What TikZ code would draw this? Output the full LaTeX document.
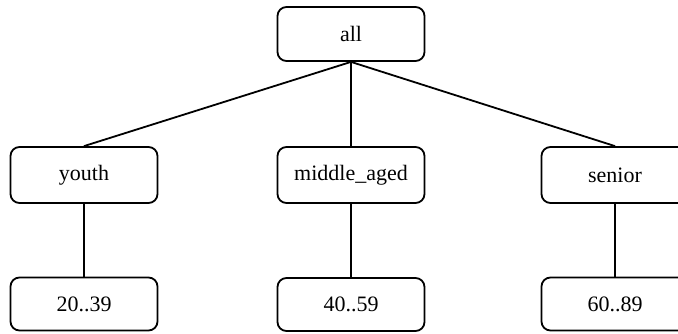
\documentclass[tikz,border=0pt]{standalone}
\usepackage{fontspec}
\setmainfont{Liberation Serif}
\begin{document}
\begin{tikzpicture}[x=1pt,y=-1pt]
\tikzset{
  box/.style={draw, line width=1.8pt, rounded corners=9pt, minimum width=147pt, inner sep=0pt, font=\fontsize{22}{26}\selectfont, fill=white},
  conn/.style={line width=1.8pt}
}
\useasboundingbox (0,0) rectangle (678,333);
\node[box, minimum height=54pt] (all) at (351,34) {all};
\node[box, minimum height=56pt] (youth) at (84,175) {youth};
\node[box, minimum height=56pt] (mid) at (351,175) {middle\_aged};
\node[box, minimum height=56pt] (sen) at (615,175) {senior};
\node[box, minimum height=53pt] (a) at (84,304) {20..39};
\node[box, minimum height=53pt] (b) at (351,304.5) {40..59};
\node[box, minimum height=53pt] (c) at (615,304) {60..89};
\draw[conn] (all.south) -- (youth.north);
\draw[conn] (all.south) -- (mid.north);
\draw[conn] (all.south) -- (sen.north);
\draw[conn] (youth.south) -- (a.north);
\draw[conn] (mid.south) -- (b.north);
\draw[conn] (sen.south) -- (c.north);
\end{tikzpicture}
\end{document}
